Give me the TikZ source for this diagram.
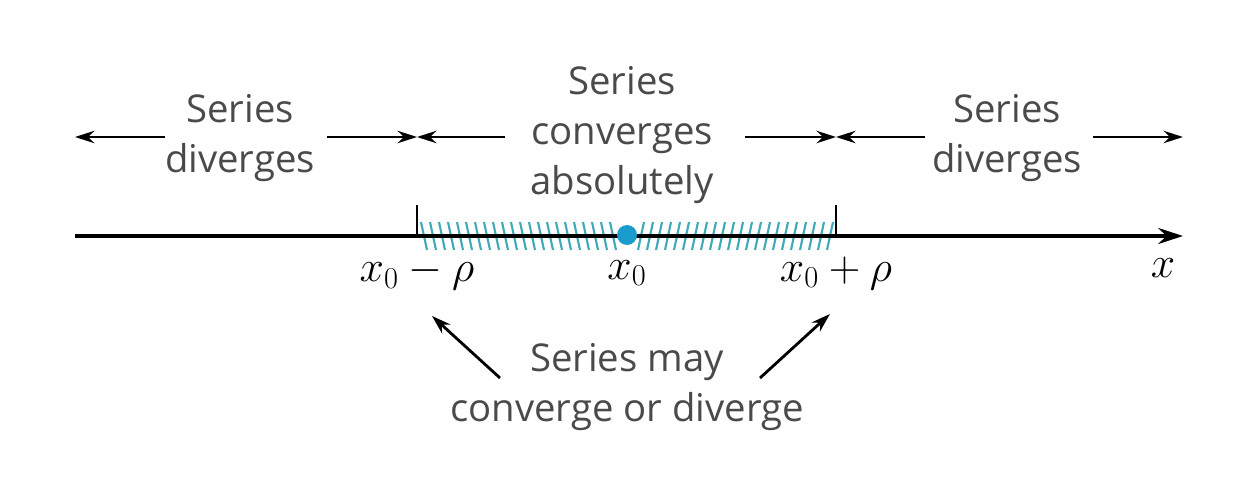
\documentclass[tikz,border=0pt]{standalone}
\usepackage{fontspec}
\setmainfont{Open Sans}
\usetikzlibrary{arrows.meta}
\definecolor{txtgray}{HTML}{4A4A4A}
\definecolor{hatch}{HTML}{3FA9B8}
\definecolor{dotblue}{HTML}{1A9DCC}
\begin{document}
\begin{tikzpicture}[x=0.02cm,y=-0.02cm,
  lbl/.style={font=\fontsize{21.8}{28.5}\selectfont, text=txtgray, align=center, inner sep=0pt},
  mth/.style={font=\fontsize{24}{28}\selectfont, inner sep=0pt},
  arr/.style={line width=1.6pt, -{Stealth[length=11pt,width=7pt]}},
  axis/.style={line width=2.3pt, -{Stealth[length=14pt,width=9pt]}},
  tick/.style={line width=1.4pt},
  hl/.style={hatch, line width=1.2pt}]
\useasboundingbox (0,0) rectangle (1236,500);
% coordinates
\coordinate (axL) at (75,236);
\coordinate (axR) at (1183,236);
\coordinate (tL) at (417,236);
\coordinate (tLtop) at (417,205);
\coordinate (tR) at (836,236);
\coordinate (tRtop) at (836,205);
\coordinate (aLL) at (75,137);
\coordinate (aLR) at (417,137);
\coordinate (aRL) at (836,137);
\coordinate (aRR) at (1183,137);
\coordinate (pL) at (432,316);
\coordinate (pR) at (830,314);
% hatching
\foreach \k in {0,...,21}{
  \draw[hl] ({421+9*\k},222) -- ({427+9*\k},250);
  \draw[hl] ({644+9*\k},222) -- ({638+9*\k},250);
}
% axis
\draw[axis] (axL) -- (axR);
\draw[tick] (tL) -- (tLtop);
\draw[tick] (tR) -- (tRtop);
\fill[dotblue] (627,235) circle (10);
% labels
\node[lbl] (sdL) at (240,138) {Series\\diverges};
\node[lbl] (sca) at (622,135) {Series\\converges\\absolutely};
\node[lbl] (sdR) at (1007,138) {Series\\diverges};
\node[lbl] (smc) at (627,387) {Series may\\converge or diverge};
% top arrows
\draw[arr] (165,137) -- (aLL);
\draw[arr] (327,137) -- (aLR);
\draw[arr] (505,137) -- (aLR);
\draw[arr] (745,137) -- (aRL);
\draw[arr] (925,137) -- (aRL);
\draw[arr] (1093,137) -- (aRR);
% math labels
\node[mth] (xm) at (417,273) {$x_0-\rho$};
\node[mth] (x0) at (627,273) {$x_0$};
\node[mth] (xp) at (836,273) {$x_0+\rho$};
\node[mth] (xx) at (1163,268) {$x$};
% bottom arrows
\draw[arr] (500,378) -- (pL);
\draw[arr] (760,378) -- (pR);
\end{tikzpicture}
\end{document}
